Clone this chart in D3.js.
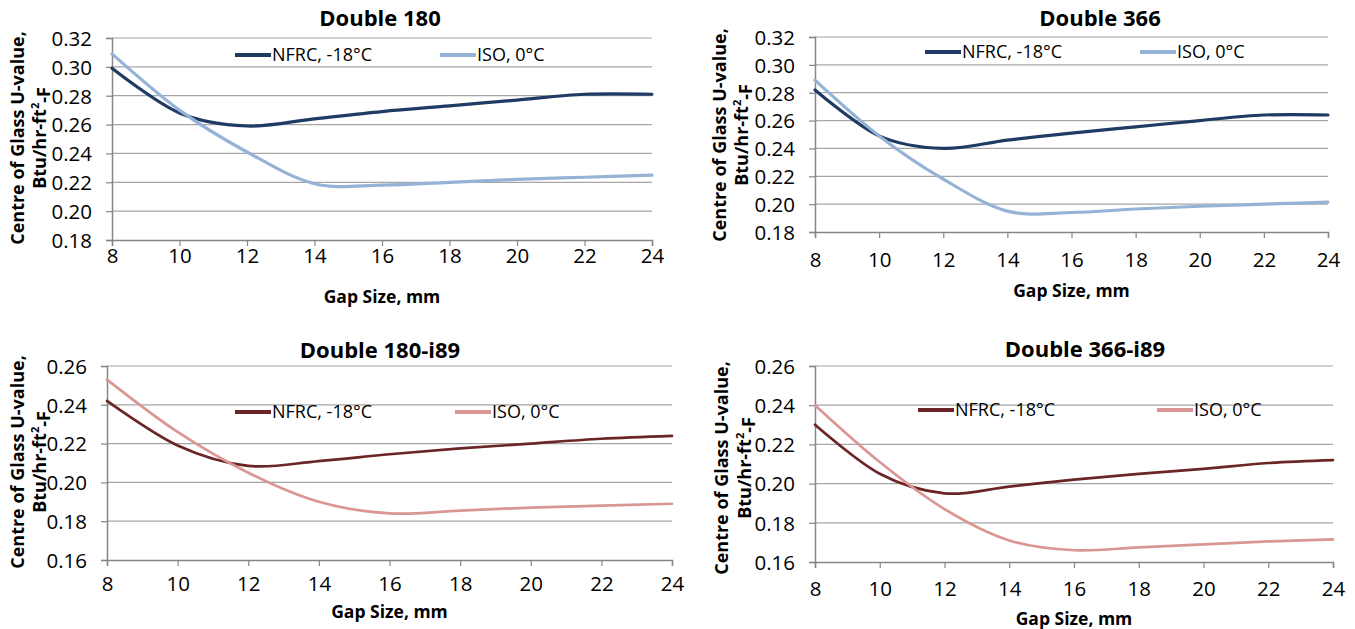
<!DOCTYPE html>
<html>
<head>
<meta charset="utf-8">
<script src="https://cdn.jsdelivr.net/npm/d3@7/dist/d3.min.js"></script>
<style>
  html, body { margin: 0; padding: 0; background: #fff; }
  svg { display: block; }
  text { font-family: "Open Sans", "Liberation Sans", sans-serif; fill: #000; }
</style>
</head>
<body>
<svg id="chart" width="1355" height="629"></svg>
<script>
// ---------- data ----------
const gapSizes = [8, 10, 12, 14, 16, 18, 20, 22, 24];
const xTickLabels = [8, 10, 12, 14, 16, 18, 20, 22, 24];
const yTicksTop = [0.18, 0.20, 0.22, 0.24, 0.26, 0.28, 0.30, 0.32];
const yTicksBottom = [0.16, 0.18, 0.20, 0.22, 0.24, 0.26];

const seriesNames = ["NFRC, -18°C", "ISO, 0°C"];
const panelTitles = ["Double 180", "Double 366", "Double 180-i89", "Double 366-i89"];

const d180_nfrc = [0.299, 0.268, 0.259, 0.264, 0.269, 0.273, 0.277, 0.281, 0.281];
const d180_iso  = [0.309, 0.270, 0.241, 0.219, 0.218, 0.220, 0.222, 0.2235, 0.225];
const d366_nfrc = [0.282, 0.249, 0.240, 0.246, 0.251, 0.2555, 0.260, 0.264, 0.264];
const d366_iso  = [0.289, 0.249, 0.218, 0.195, 0.194, 0.1965, 0.1985, 0.200, 0.2015];
const d180i_nfrc = [0.242, 0.219, 0.2085, 0.211, 0.2145, 0.2175, 0.220, 0.2225, 0.224];
const d180i_iso  = [0.253, 0.226, 0.205, 0.190, 0.184, 0.1855, 0.187, 0.188, 0.189];
const d366i_nfrc = [0.230, 0.205, 0.195, 0.1985, 0.202, 0.205, 0.2075, 0.2105, 0.212];
const d366i_iso  = [0.240, 0.211, 0.187, 0.171, 0.166, 0.1675, 0.169, 0.1705, 0.1715];

// ---------- layout / style ----------
const blue = ["#1F3B63", "#95B3D7"];
const red  = ["#6B2526", "#DA9694"];

const panels = [
  { title: panelTitles[0], series: [d180_nfrc, d180_iso], colors: blue, yTicks: yTicksTop,
    x0: 112, x1: 652, yTop: 38, yBot: 240, titleX: 380, titleY: 26,
    legY: 55, legX: [235, 440], xTickY: 262, xTitleY: 303, yTitleX: [24, 46], yTitleCY: 138, lw: 3.2 },
  { title: panelTitles[1], series: [d366_nfrc, d366_iso], colors: blue, yTicks: yTicksTop,
    x0: 815, x1: 1328, yTop: 37, yBot: 232, titleX: 1100, titleY: 26,
    legY: 52, legX: [925, 1140], xTickY: 266, xTitleY: 297, yTitleX: [726, 748], yTitleCY: 135, lw: 3.2 },
  { title: panelTitles[2], series: [d180i_nfrc, d180i_iso], colors: red, yTicks: yTicksBottom,
    x0: 107, x1: 672, yTop: 366, yBot: 560, titleX: 380, titleY: 358,
    legY: 412, legX: [235, 455], xTickY: 590, xTitleY: 618, yTitleX: [24, 46], yTitleCY: 462, lw: 2.7 },
  { title: panelTitles[3], series: [d366i_nfrc, d366i_iso], colors: red, yTicks: yTicksBottom,
    x0: 815, x1: 1333, yTop: 366, yBot: 562, titleX: 1085, titleY: 357,
    legY: 410, legX: [918, 1157], xTickY: 595, xTitleY: 625, yTitleX: [728, 751], yTitleCY: 468, lw: 2.7 }
];

const svg = d3.select("#chart");
const gridColor = "#A6A6A6";
const axisColor = "#868686";

panels.forEach(p => {
  const g = svg.append("g");
  const x = d3.scaleLinear().domain([8, 24]).range([p.x0, p.x1]);
  const y = d3.scaleLinear().domain([p.yTicks[0], p.yTicks[p.yTicks.length - 1]]).range([p.yBot, p.yTop]);

  // gridlines
  g.append("g").selectAll("line").data(p.yTicks.slice(1)).join("line")
    .attr("x1", p.x0).attr("x2", p.x1)
    .attr("y1", d => y(d)).attr("y2", d => y(d))
    .attr("stroke", gridColor).attr("stroke-width", 1.2);

  // y axis
  const ya = g.append("g").attr("transform", `translate(${p.x0},0)`)
    .call(d3.axisLeft(y).tickValues(p.yTicks).tickFormat(d3.format(".2f")).tickSize(6).tickPadding(14));
  ya.select(".domain").attr("stroke", axisColor).attr("stroke-width", 1.5);
  ya.selectAll(".tick line").attr("stroke", axisColor).attr("stroke-width", 1.2);
  ya.selectAll(".tick text").attr("font-size", 20.5).attr("font-family", "Open Sans").attr("fill", "#000").attr("dy", "0.36em");

  // x axis
  const xa = g.append("g").attr("transform", `translate(0,${p.yBot})`)
    .call(d3.axisBottom(x).tickValues(xTickLabels).tickFormat(d3.format("d")).tickSize(6).tickPadding(0));
  xa.select(".domain").attr("stroke", axisColor).attr("stroke-width", 1.5);
  xa.selectAll(".tick line").attr("stroke", axisColor).attr("stroke-width", 1.2);
  xa.selectAll(".tick text").attr("font-size", 20.5).attr("font-family", "Open Sans").attr("fill", "#000")
    .attr("dy", null).attr("y", p.xTickY - p.yBot + 1);

  // lines
  const line = d3.line().x((d, i) => x(gapSizes[i])).y(d => y(d)).curve(d3.curveCardinal.tension(0));
  p.series.forEach((s, k) => {
    g.append("path").datum(s).attr("d", line)
      .attr("fill", "none").attr("stroke", p.colors[k]).attr("stroke-width", p.lw)
      .attr("stroke-linecap", "round").attr("stroke-linejoin", "round");
  });

  // legend
  seriesNames.forEach((nm, k) => {
    const lx = p.legX[k];
    g.append("line").attr("x1", lx).attr("x2", lx + 36).attr("y1", p.legY).attr("y2", p.legY)
      .attr("stroke", p.colors[k]).attr("stroke-width", 4);
    g.append("text").attr("x", lx + 37).attr("y", p.legY).attr("dy", "0.36em")
      .attr("font-size", 18).text(nm);
  });

  // title
  g.append("text").attr("x", p.titleX).attr("y", p.titleY).attr("text-anchor", "middle")
    .attr("font-size", 22).attr("font-weight", "bold").text(p.title);

  // x title
  g.append("text").attr("x", (p.x0 + p.x1) / 2).attr("y", p.xTitleY).attr("text-anchor", "middle")
    .attr("font-size", 17.5).attr("font-weight", "bold").text("Gap Size, mm");

  // y title (two lines, rotated)
  g.append("text").attr("transform", `translate(${p.yTitleX[0]},${p.yTitleCY}) rotate(-90)`)
    .attr("text-anchor", "middle").attr("font-size", 18).attr("font-weight", "bold")
    .text("Centre of Glass U-value,");
  const yt2 = g.append("text").attr("transform", `translate(${p.yTitleX[1]},${p.yTitleCY}) rotate(-90)`)
    .attr("text-anchor", "middle").attr("font-size", 18).attr("font-weight", "bold");
  yt2.append("tspan").text("Btu/hr-ft");
  yt2.append("tspan").attr("font-size", 11).attr("dy", "-0.6em").text("2");
  yt2.append("tspan").attr("dy", "0.6em").text("-F");
});
</script>
</body>
</html>
